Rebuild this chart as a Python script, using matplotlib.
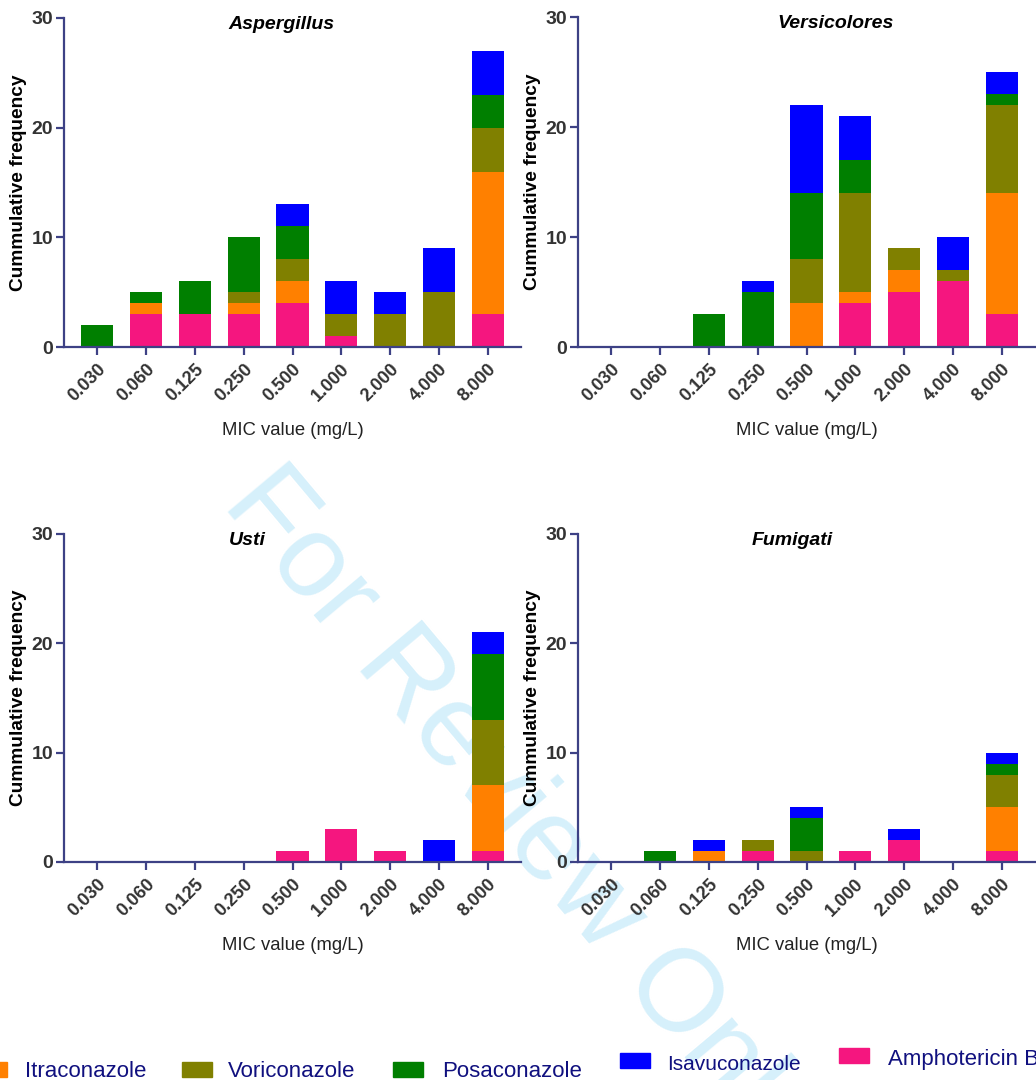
import numpy as np
import matplotlib
matplotlib.use('Agg')
from matplotlib import pyplot as plt
from matplotlib.patches import Rectangle

# MIC classes on the x axis
mic_labels = ['0.030', '0.060', '0.125', '0.250', '0.500', '1.000', '2.000', '4.000', '8.000']

# drugs, in stacking order (bottom -> top)
drugs = ['Amphotericin B', 'Itraconazole', 'Voriconazole', 'Posaconazole', 'Isavuconazole']
drug_colors = ['#F5167F', '#FF8000', '#808000', '#007F00', '#0000FF']

# counts per section, one list per drug
asp_amb = [0, 3, 3, 3, 4, 1, 0, 0, 3]
asp_itr = [0, 1, 0, 1, 2, 0, 0, 0, 13]
asp_vor = [0, 0, 0, 1, 2, 2, 3, 5, 4]
asp_pos = [2, 1, 3, 5, 3, 0, 0, 0, 3]
asp_isa = [0, 0, 0, 0, 2, 3, 2, 4, 4]

ver_amb = [0, 0, 0, 0, 0, 4, 5, 6, 3]
ver_itr = [0, 0, 0, 0, 4, 1, 2, 0, 11]
ver_vor = [0, 0, 0, 0, 4, 9, 2, 1, 8]
ver_pos = [0, 0, 3, 5, 6, 3, 0, 0, 1]
ver_isa = [0, 0, 0, 1, 8, 4, 0, 3, 2]

ust_amb = [0, 0, 0, 0, 1, 3, 1, 0, 1]
ust_itr = [0, 0, 0, 0, 0, 0, 0, 0, 6]
ust_vor = [0, 0, 0, 0, 0, 0, 0, 0, 6]
ust_pos = [0, 0, 0, 0, 0, 0, 0, 0, 6]
ust_isa = [0, 0, 0, 0, 0, 0, 0, 2, 2]

fum_amb = [0, 0, 0, 1, 0, 1, 2, 0, 1]
fum_itr = [0, 0, 1, 0, 0, 0, 0, 0, 4]
fum_vor = [0, 0, 0, 1, 1, 0, 0, 0, 3]
fum_pos = [0, 1, 0, 0, 3, 0, 0, 0, 1]
fum_isa = [0, 0, 1, 0, 1, 0, 1, 0, 1]

panels = [
    ('Aspergillus', [asp_amb, asp_itr, asp_vor, asp_pos, asp_isa]),
    ('Versicolores', [ver_amb, ver_itr, ver_vor, ver_pos, ver_isa]),
    ('Usti', [ust_amb, ust_itr, ust_vor, ust_pos, ust_isa]),
    ('Fumigati', [fum_amb, fum_itr, fum_vor, fum_pos, fum_isa]),
]

W, H = 1036, 1080
plt.rcParams['font.family'] = ['Liberation Sans', 'DejaVu Sans']
fig = plt.figure(figsize=(W / 100, H / 100), dpi=100)

axis_col = '#3D4185'
# axes boxes in pixels: left, top(y=30), width, bottom(y=0)
boxes = [(64, 18, 457, 347), (578, 17, 457, 347), (64, 534, 457, 862), (578, 534, 457, 862)]
title_x = [0.476, 0.563, 0.401, 0.469]

x = np.arange(len(mic_labels))
for (name, series), (l, t, w, b), tx in zip(panels, boxes, title_x):
    ax = fig.add_axes([l / W, 1 - b / H, w / W, (b - t) / H])
    ax.set_facecolor('none')
    bottom = np.zeros(len(x))
    for vals, col in zip(series, drug_colors):
        vals = np.array(vals)
        ax.bar(x, vals, width=0.66, bottom=bottom, color=col, linewidth=0, zorder=2)
        bottom += vals
    ax.set_xlim(-0.68, 8.68)
    ax.set_ylim(0, 30)
    ax.set_yticks([0, 10, 20, 30])
    ax.set_xticks(x)
    ax.set_xticklabels(mic_labels, rotation=45, ha='right', rotation_mode='anchor',
                       fontsize=13, fontweight='bold')
    for lab in ax.get_yticklabels():
        lab.set_fontsize(14)
        lab.set_fontweight('bold')
    for s in ['top', 'right']:
        ax.spines[s].set_visible(False)
    for s in ['left', 'bottom']:
        ax.spines[s].set_color(axis_col)
        ax.spines[s].set_linewidth(1.6)
    ax.tick_params(axis='both', colors=axis_col, width=1.6, length=6)
    ax.tick_params(axis='x', pad=4)
    ax.tick_params(axis='y', pad=2)
    for lab in ax.get_xticklabels() + ax.get_yticklabels():
        lab.set_color('#333333')
    ax.set_ylabel('Cummulative frequency', fontsize=13.8, fontweight='bold', labelpad=3)
    ax.set_xlabel('MIC value (mg/L)', fontsize=13.3, color='#222222', labelpad=12)
    # title sits level with the y=30 tick
    ax.text(tx, 29.4 / 30, name, transform=ax.transAxes,
            fontsize=14, fontweight='bold', style='italic', ha='center', va='center')

# legend along the bottom (layout positions in pixels)
leg_order = [1, 2, 3, 4, 0]
sq_x = [-23, 182, 393, 620, 839]
sq_top = [1062, 1062, 1062, 1053, 1048]
txt_x = [25, 228, 442, 667, 888]
txt_base = [1077, 1077, 1077, 1070, 1065]
txt_size = [16, 16, 16, 15, 16]
for i, k in enumerate(leg_order):
    fig.patches.append(Rectangle((sq_x[i] / W, 1 - (sq_top[i] + 15) / H), 30 / W, 15 / H,
                                 transform=fig.transFigure, color=drug_colors[k], figure=fig))
    fig.text(txt_x[i] / W, 1 - txt_base[i] / H, drugs[k], fontsize=txt_size[i],
             color='#10107F', ha='left', va='baseline')

# watermark
fig.text(220 / W, 1 - 505 / H, 'For Review Only', fontsize=84, color='#D6F0FB',
         rotation=-50, rotation_mode='anchor', ha='left', va='baseline', zorder=-5)

fig.savefig('out.png', dpi=100)
